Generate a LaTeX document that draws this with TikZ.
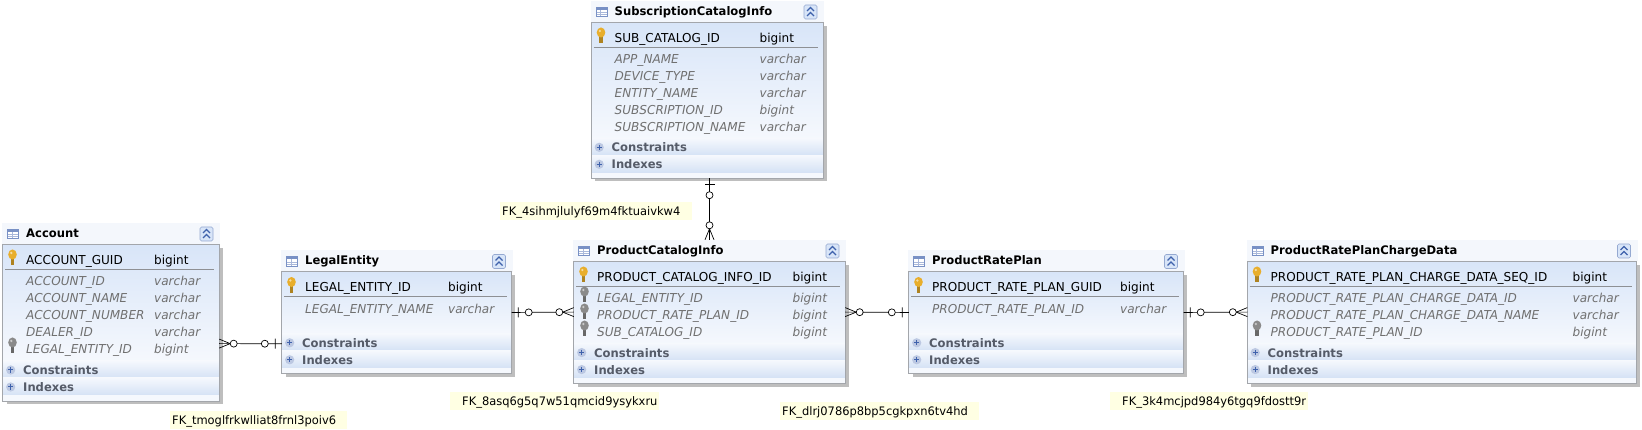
\documentclass[tikz,border=0pt]{standalone}
\usepackage{fontspec}
\setmainfont{DejaVu Sans}[FakeStretch=0.98]
\usetikzlibrary{calc}

\definecolor{dbborder}{HTML}{A3A6AB}
\definecolor{dbshadow}{HTML}{BEBEBE}
\definecolor{dbhead}{HTML}{F4F7FC}
\definecolor{dbtop}{HTML}{D8E5F8}
\definecolor{dbpale}{HTML}{F5F8FD}
\definecolor{dbband}{HTML}{D5E2F5}
\definecolor{dbgrey}{HTML}{707070}
\definecolor{dbslate}{HTML}{555B68}
\definecolor{dbrule}{HTML}{8E9094}
\definecolor{dbnavy}{HTML}{3F62AC}
\definecolor{keygold}{HTML}{E8AE2C}
\definecolor{keygrey}{HTML}{8A8A8A}
\definecolor{fkyellow}{HTML}{FFFFE3}

\newcommand{\dbfont}{\fontsize{12.3}{14}\selectfont}
\newcommand{\dbbold}{\fontsize{11.8}{14}\bfseries\selectfont}
\newcommand{\dbslant}{\fontsize{12.3}{14}\itshape\selectfont}

\tikzset{
  fkline/.style={line width=0.7pt, black},
  fklabel/.style={fill=fkyellow, inner ysep=0pt, minimum height=18pt, text height=10pt, text depth=2pt,
    anchor=north west, align=left, font=\fontsize{11.7}{14}\selectfont},
  pics/fkone/.style={code={
    \draw[fkline] (6.5,-5) -- (6.5,5);
    \draw[fkline, fill=white] (17,0) circle (3.5);
  }},
  pics/fkmany/.style={code={
    \draw[fkline] (-11,0) -- (0,-4.5);
    \draw[fkline] (-11,0) -- (0,4.5);
    \draw[fkline, fill=white] (-14.5,0) circle (3.5);
  }},
  pics/dbkey/.style={code={
    \fill[#1!75!black] (-1.8,-1) rectangle (1.8,8);
    \fill[#1] (0,-3) ellipse (4.3 and 5);
    \fill[#1!45!white] (-1.2,-4.5) circle (1.3);
  }},
  pics/tableicon/.style={code={
    \draw[line width=0.6pt, draw=dbnavy!70, fill=white] (-5.5,-4.5) rectangle (5.5,5);
    \fill[dbnavy!70] (-5.5,-4.5) rectangle (5.5,-1.5);
    \foreach \i in {1,3.2} \draw[line width=0.5pt, dbnavy!45] (-5,\i) -- (5,\i);
    \draw[line width=0.5pt, dbnavy!45] (-1,-1.5) -- (-1,5);
  }},
  pics/foldbutton/.style={code={
    \draw[line width=0.6pt, draw=dbnavy!55, fill=dbtop, rounded corners=1.5pt] (-6.5,-7) rectangle (6.5,7);
    \draw[line width=1.2pt, dbnavy] (-3.5,-1) -- (0,-4.5) -- (3.5,-1);
    \draw[line width=1.2pt, dbnavy] (-3.5,4) -- (0,0.5) -- (3.5,4);
  }},
  pics/plusbutton/.style={code={
    \fill[dbnavy!35] (0,0) circle (4.6);
    \draw[line width=1pt, dbnavy] (-2.6,0) -- (2.6,0);
    \draw[line width=1pt, dbnavy] (0,-2.6) -- (0,2.6);
  }}
}

% name, title, left, right, head top, bottom, key column, type x, rows
\newcommand{\dbtable}[9]{
  \pgfmathsetmacro{\bodytop}{#5+21.5}
  \pgfmathsetmacro{\consy}{#6-39.7}
  \pgfmathsetmacro{\idxy}{#6-22.7}
  \pgfmathsetmacro{\strip}{#6-5.7}
  \pgfmathsetmacro{\pky}{\bodytop+20}
  \pgfmathsetmacro{\ruley}{\bodytop+24.7}
  \fill[dbshadow] (#3+3.5,\bodytop+3.5) rectangle (#4+3.5,#6+3.5);
  \node[fill=dbhead, inner sep=0pt, minimum width={(#4-#3+2)*1pt}, minimum height=21.5pt] (#1head)
    at ({(#3+#4)/2},{#5+10.75}) {};
  \node[fill=dbpale, inner sep=0pt, minimum width={(#4-#3)*1pt}, minimum height={(#6-\bodytop)*1pt}] (#1)
    at ({(#3+#4)/2},{(\bodytop+#6)/2}) {};
  \shade[top color=dbtop, bottom color=dbpale] (#3,\bodytop) rectangle (#4,\consy);
  \shade[top color=dbpale, bottom color=dbband] (#3,\consy) rectangle (#4,\idxy);
  \shade[top color=dbpale, bottom color=dbband] (#3,\idxy) rectangle (#4,\strip);
  \draw[line width=0.8pt, dbborder] (#1.north west) rectangle (#1.south east);
  \draw[line width=0.8pt, dbrule] (#3+2,\ruley) -- (#4-5,\ruley);
  \pic at (#3+10,#5+10.5) {tableicon};
  \node[anchor=base west, font=\dbbold] (#1title) at (#3+23,#5+14.5) {#2};
  \pic at (#4-12.5,#5+11) {foldbutton};
  \pic at (#3+9.5,\bodytop+13) {dbkey=keygold};
  \node[anchor=base west] (#1pk) at (#3+23,\pky) {#7};
  \node[anchor=base west] (#1pktype) at (#8,\pky) {bigint};
  \foreach \rowtext/\rowtype [count=\i] in {#9} {
    \node[anchor=base west, dbgrey, font=\dbslant] (#1row\i)
      at (#3+23,{\bodytop+41.5+17*(\i-1)}) {\rowtext};
    \node[anchor=base west, dbgrey, font=\dbslant] (#1type\i)
      at (#8,{\bodytop+41.5+17*(\i-1)}) {\rowtype};
  }
  \pic at (#3+7.7,\consy+9) {plusbutton};
  \node[anchor=base west, dbslate, font=\dbbold] (#1cons) at (#3+20,\consy+13.5) {Constraints};
  \pic at (#3+7.7,\idxy+9) {plusbutton};
  \node[anchor=base west, dbslate, font=\dbbold] (#1idx) at (#3+20,\idxy+13.5) {Indexes};
}

\begin{document}
\begin{tikzpicture}[x=1pt, y=-1pt, every node/.style={inner sep=0pt, font=\dbfont}]
  \useasboundingbox (0,0) rectangle (1642,430);

  % Tables
  \dbtable{account}{Account}{3}{219}{223}{400.7}{ACCOUNT\_GUID}{154}{
    ACCOUNT\_ID/varchar, ACCOUNT\_NAME/varchar, ACCOUNT\_NUMBER/varchar,
    DEALER\_ID/varchar, LEGAL\_ENTITY\_ID/bigint}
  \dbtable{legal}{LegalEntity}{282}{511.5}{250.5}{373.5}{LEGAL\_ENTITY\_ID}{448}{
    LEGAL\_ENTITY\_NAME/varchar}
  \dbtable{subscription}{SubscriptionCatalogInfo}{591.5}{823}{1}{178}{SUB\_CATALOG\_ID}{759.5}{
    APP\_NAME/varchar, DEVICE\_TYPE/varchar, ENTITY\_NAME/varchar,
    SUBSCRIPTION\_ID/bigint, SUBSCRIPTION\_NAME/varchar}
  \dbtable{product}{ProductCatalogInfo}{574}{845}{240}{383.3}{PRODUCT\_CATALOG\_INFO\_ID}{792.5}{
    LEGAL\_ENTITY\_ID/bigint, PRODUCT\_RATE\_PLAN\_ID/bigint, SUB\_CATALOG\_ID/bigint}
  \dbtable{rateplan}{ProductRatePlan}{909}{1183.5}{250.5}{373.5}{PRODUCT\_RATE\_PLAN\_GUID}{1120}{
    PRODUCT\_RATE\_PLAN\_ID/varchar}
  \dbtable{chargedata}{ProductRatePlanChargeData}{1247.5}{1636.5}{240}{383.3}{PRODUCT\_RATE\_PLAN\_CHARGE\_DATA\_SEQ\_ID}{1572.5}{
    PRODUCT\_RATE\_PLAN\_CHARGE\_DATA\_ID/varchar, PRODUCT\_RATE\_PLAN\_CHARGE\_DATA\_NAME/varchar,
    PRODUCT\_RATE\_PLAN\_ID/bigint}

  % Foreign key columns
  \pic at (12.5,345.5) {dbkey=keygrey};
  \pic at (584.5,294.5) {dbkey=keygrey};
  \pic at (584.5,311.5) {dbkey=keygrey};
  \pic at (584.5,328.5) {dbkey=keygrey};
  \pic at (1257,328.5) {dbkey=keygrey};

  % Links
  \draw[fkline] ([yshift=-21pt]legal.west) -- ([yshift=-21pt]account.east)
    pic[pos=0, sloped, allow upside down] {fkone} pic[pos=1, sloped, allow upside down] {fkmany};
  \draw[fkline] ([yshift=10.3pt]legal.east) -- ([yshift=10.3pt]product.west)
    pic[pos=0, sloped] {fkone} pic[pos=1, sloped] {fkmany};
  \draw[fkline] ([yshift=10.3pt]rateplan.west) -- ([yshift=10.3pt]product.east)
    pic[pos=0, sloped, allow upside down] {fkone} pic[pos=1, sloped, allow upside down] {fkmany};
  \draw[fkline] ([yshift=10.3pt]rateplan.east) -- ([yshift=10.3pt]chargedata.west)
    pic[pos=0, sloped] {fkone} pic[pos=1, sloped] {fkmany};
  \draw[fkline] (producthead.north |- subscription.south) -- (producthead.north)
    pic[pos=0, sloped] {fkone} pic[pos=1, sloped] {fkmany};

  % Names of the keys
  \node[fklabel, text width=173pt, inner xsep=2pt] (fkaccount) at (170,411) {FK\_tmoglfrkwlliat8frnl3poiv6};
  \node[fklabel, text width=188pt, inner xsep=2pt] (fksubscription) at (500,202) {FK\_4sihmjlulyf69m4fktuaivkw4};
  \node[fklabel, text width=185pt, inner xsep=12pt] (fklegal) at (450,392) {FK\_8asq6g5q7w51qmcid9ysykxru};
  \node[fklabel, text width=195pt, inner xsep=2pt] (fkrateplan) at (780,402) {FK\_dlrj0786p8bp5cgkpxn6tv4hd};
  \node[fklabel, text width=174pt, inner xsep=12pt] (fkcharge) at (1110,392) {FK\_3k4mcjpd984y6tgq9fdostt9r};
\end{tikzpicture}
\end{document}
